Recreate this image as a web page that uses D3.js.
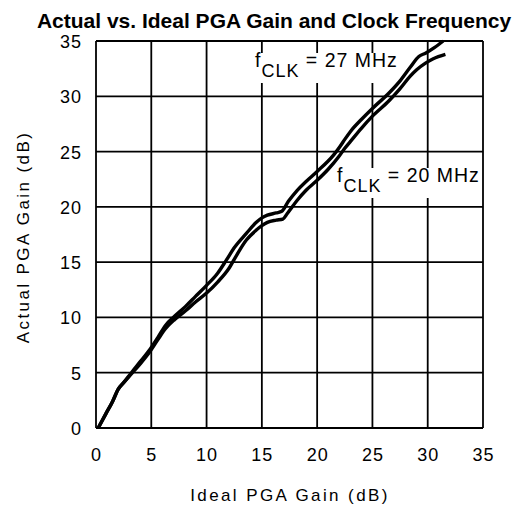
<!DOCTYPE html>
<html><head><meta charset="utf-8">
<script src="https://cdn.jsdelivr.net/npm/d3@7/dist/d3.min.js"></script>
<style>
html,body{margin:0;padding:0;background:#fff;}
svg text{font-family:"Liberation Sans",Arial,sans-serif;fill:#000;}
</style></head>
<body>
<svg id="c" width="524" height="508"></svg>
<script>
const title = "Actual vs. Ideal PGA Gain and Clock Frequency";
const xTitle = "Ideal PGA Gain (dB)";
const yTitle = "Actual PGA Gain (dB)";
const xTicks = [0,5,10,15,20,25,30,35];
const yTicks = [0,5,10,15,20,25,30,35];

const x27 = [0.2,0.9,1.5,2.0,2.5,3.2,4.0,4.8,5.6,6.3,7.1,8.1,9.0,10.0,11.0,11.8,12.5,13.6,14.5,15.0,15.5,16.3,16.8,17.4,18.2,19.0,20.0,21.5,22.1,22.5,23.0,24.0,25.0,26.5,27.5,28.4,29.2,29.8,30.6,31.4];
const y27 = [0,1.3,2.4,3.5,4.1,5.0,6.0,7.0,8.2,9.3,10.1,11.0,11.9,12.9,14.0,15.2,16.3,17.6,18.6,19.0,19.25,19.45,19.6,20.5,21.5,22.3,23.2,24.7,25.5,26.1,26.8,27.9,28.9,30.3,31.4,32.6,33.6,33.9,34.4,35.0];
const x20 = [0.2,0.9,1.5,2.0,2.5,3.2,4.0,4.8,5.6,6.3,7.1,8.1,9.0,10.0,11.0,12.0,12.7,13.6,14.5,15.0,15.5,16.3,16.9,17.3,18.2,19.0,20.0,21.0,22.0,22.5,23.0,24.0,25.0,26.5,27.5,28.4,29.0,29.8,30.5,31.6];
const y20 = [0,1.3,2.4,3.5,4.1,4.9,5.8,6.8,8.0,9.0,9.8,10.6,11.4,12.2,13.2,14.4,15.6,17.0,17.9,18.3,18.6,18.8,18.9,19.4,20.6,21.5,22.4,23.4,24.6,25.3,25.9,27.1,28.2,29.6,30.7,31.8,32.4,33.0,33.4,33.8];

const L=96,R=483,T=41,B=428;
const svg=d3.select("#c");
const xs=d3.scaleLinear().domain([0,35]).range([L,R]);
const ys=d3.scaleLinear().domain([0,35]).range([B,T]);

svg.append("text").attr("x",274).attr("y",28).attr("text-anchor","middle")
  .attr("font-weight","bold").attr("font-size",21).text(title);

const g=svg.append("g");
g.selectAll("line.vx").data(xTicks).join("line").attr("x1",d=>xs(d)).attr("x2",d=>xs(d))
 .attr("y1",T).attr("y2",B).attr("stroke","#000").attr("stroke-width",1.8);
g.selectAll("line.hy").data(yTicks).join("line").attr("class","hy").attr("y1",d=>ys(d)).attr("y2",d=>ys(d))
 .attr("x1",L).attr("x2",R).attr("stroke","#000").attr("stroke-width",1.8);

const xa=svg.append("g").attr("transform",`translate(0,${B})`)
  .call(d3.axisBottom(xs).tickValues(xTicks).tickSize(0).tickPadding(33));
xa.select(".domain").remove();
xa.selectAll("text").attr("font-size",18).attr("letter-spacing",1).attr("font-family","Liberation Sans, Arial, sans-serif").attr("dy",0);
const ya=svg.append("g").attr("transform",`translate(${L},0)`)
  .call(d3.axisLeft(ys).tickValues(yTicks).tickSize(0).tickPadding(14));
ya.select(".domain").remove();
ya.selectAll("text").attr("font-size",18).attr("letter-spacing",1).attr("font-family","Liberation Sans, Arial, sans-serif").attr("dy","0.36em");

svg.append("text").attr("x",290).attr("y",501).attr("text-anchor","middle")
  .attr("font-size",17).attr("letter-spacing",2.4).text(xTitle);
svg.append("text").attr("transform","translate(29,237) rotate(-90)").attr("text-anchor","middle")
  .attr("font-size",17).attr("letter-spacing",2.4).text(yTitle);

function label(xp,yp,val){
  const gl=svg.append("g");
  const bg=gl.append("rect").attr("fill","#fff");
  const t=gl.append("text").attr("x",xp).attr("y",yp).attr("font-size",19.5).attr("letter-spacing",1);
  t.append("tspan").text("f");
  t.append("tspan").attr("dy",10).attr("font-size",18).text("CLK");
  t.append("tspan").attr("dy",-10).text(" = "+val+" MHz");
  const bb=t.node().getBBox();
  bg.attr("x",bb.x-2).attr("y",bb.y+4).attr("width",bb.width+4).attr("height",bb.height-2);
}
label(255,67,"27");
label(337,182,"20");

const line=d3.line().x(d=>xs(d[0])).y(d=>ys(d[1])).curve(d3.curveMonotoneX);
[[x27,y27],[x20,y20]].forEach(([xa_,ya_])=>{
  svg.append("path").datum(xa_.map((v,i)=>[v,ya_[i]])).attr("d",line)
   .attr("fill","none").attr("stroke","#000").attr("stroke-width",3.4).attr("stroke-linejoin","round");
});
</script>
</body></html>
